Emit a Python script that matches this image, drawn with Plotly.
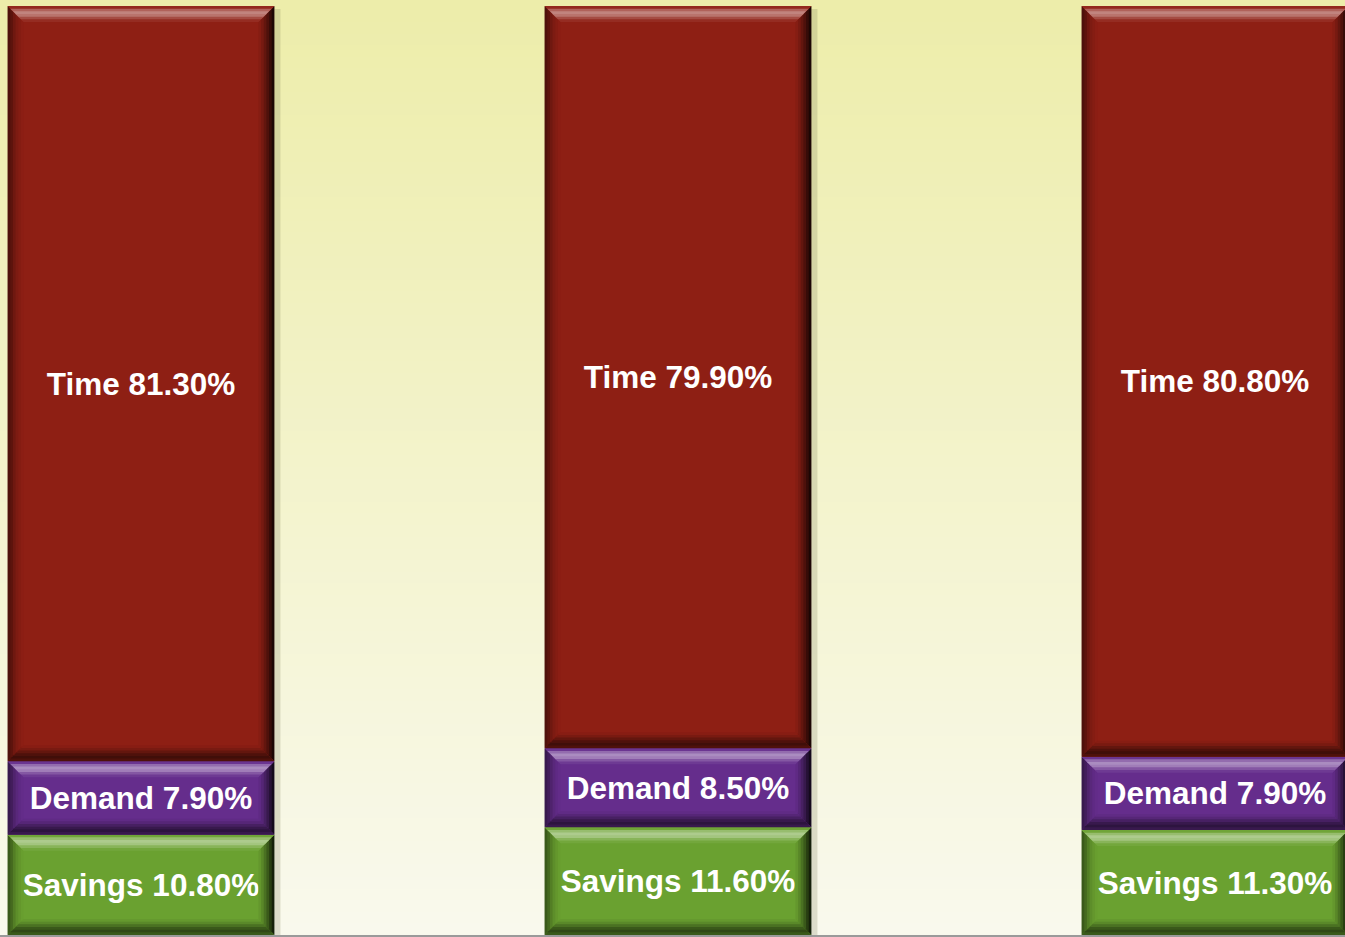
import plotly.graph_objects as go

categories = ["A", "B", "C"]
savings = [10.8, 11.6, 11.3]
demand = [7.9, 8.5, 7.9]
time_vals = [81.3, 79.9, 80.8]

series = [
    ("Savings", savings, (106, 161, 48)),
    ("Demand", demand, (101, 45, 140)),
    ("Time", time_vals, (142, 31, 20)),
]

W, H = 1345, 937
x_px_per = 537.0
x0_px = 141.0
xr = [-x0_px / x_px_per, (W - x0_px) / x_px_per]
y_px_per = 929.0 / 100.0
yr = [-(H - 935) / y_px_per, 100 + 6 / y_px_per]


def rgb(c):
    return "rgb(%d,%d,%d)" % tuple(int(round(v)) for v in c)


def mix(c, t, f):
    return tuple(c[k] + (t[k] - c[k]) * f for k in range(3))


fig = go.Figure()
for name, vals, col in series:
    fig.add_trace(go.Bar(
        x=list(range(len(categories))), y=vals, name=name,
        marker=dict(color=rgb(col), line=dict(width=0)),
        texttemplate=name + " %{y:.2f}%", textposition="inside",
        insidetextanchor="middle", textangle=0, constraintext="none",
        textfont=dict(family="Liberation Sans, Arial", size=31.5, color="white", weight="bold"),
        width=0.497,
    ))

shapes = []
# background gradient
top = (237, 237, 170)
bot = (249, 249, 237)
N = 80
for i in range(N):
    t = i / (N - 1)
    c = tuple(top[k] + (bot[k] - top[k]) * t for k in range(3))
    shapes.append(dict(type="rect", xref="paper", yref="paper",
                       x0=0, x1=1, y0=1 - (i + 1) / N, y1=1 - i / N + 0.002,
                       fillcolor=rgb(c), line=dict(width=0), layer="below"))

# bevel decorations derived from data
bw = 0.497
depth = 16.0
nb = 6
sx = 1 / x_px_per
sy = 1 / y_px_per
WHITE = (255, 255, 255)
BLACK = (0, 0, 0)
top_prof = [(WHITE, f) for f in [0.04, 0.3, 0.45, 0.38, 0.2, 0.06]]
bot_prof = [(BLACK, f) for f in [0.45, 0.55, 0.45, 0.3, 0.15, 0.05]]
rt_prof = [(BLACK, f) for f in [0.8, 0.62, 0.45, 0.3, 0.16, 0.06]]
lf_prof = [(BLACK, f) for f in [0.45, 0.35, 0.22, 0.12, 0.06, 0.02]]


def poly(pts, fill):
    p = "M " + " L ".join("%f,%f" % pt for pt in pts) + " Z"
    shapes.append(dict(type="path", xref="x", yref="y", path=p,
                       fillcolor=fill, line=dict(width=0), layer="above"))


for xi in range(len(categories)):
    base = 0.0
    shapes.append(dict(type="rect", xref="x", yref="y",
                       x0=xi + bw / 2, x1=xi + bw / 2 + 6 * sx, y0=0, y1=100 - 3 * sy,
                       fillcolor="rgba(120,120,80,0.22)", line=dict(width=0), layer="below"))
    for name, vals, col in series:
        v = vals[xi]
        xa, xb = xi - bw / 2, xi + bw / 2
        ya, yb = base, base + v
        for i in range(nb):
            d0 = depth * i / nb
            d1 = depth * (i + 1) / nb + (1.0 if i < nb - 1 else 0.0)
            poly([(xa + d0 * sx, ya + d0 * sy), (xa + d0 * sx, yb - d0 * sy),
                  (xa + d1 * sx, yb - d1 * sy), (xa + d1 * sx, ya + d1 * sy)],
                 rgb(mix(col, *lf_prof[i])))
            poly([(xb - d0 * sx, ya + d0 * sy), (xb - d0 * sx, yb - d0 * sy),
                  (xb - d1 * sx, yb - d1 * sy), (xb - d1 * sx, ya + d1 * sy)],
                 rgb(mix(col, *rt_prof[i])))
            poly([(xa + d0 * sx, yb - d0 * sy), (xb - d0 * sx, yb - d0 * sy),
                  (xb - d1 * sx, yb - d1 * sy), (xa + d1 * sx, yb - d1 * sy)],
                 rgb(mix(col, *top_prof[i])))
            poly([(xa + d0 * sx, ya + d0 * sy), (xb - d0 * sx, ya + d0 * sy),
                  (xb - d1 * sx, ya + d1 * sy), (xa + d1 * sx, ya + d1 * sy)],
                 rgb(mix(col, *bot_prof[i])))
        base = yb

shapes.append(dict(type="line", xref="paper", yref="paper", x0=0, x1=1, y0=0.001, y1=0.001,
                   line=dict(color="#9A9A9A", width=2), layer="above"))

fig.update_layout(
    barmode="stack",
    width=W, height=H,
    margin=dict(l=0, r=0, t=0, b=0),
    showlegend=False,
    paper_bgcolor="rgba(0,0,0,0)", plot_bgcolor="rgba(0,0,0,0)",
    xaxis=dict(range=xr, visible=False, fixedrange=True),
    yaxis=dict(range=yr, visible=False, fixedrange=True),
    shapes=shapes,
)
fig.write_html("out.html", config={"displayModeBar": False},
               post_script="document.body.style.margin='0';document.body.style.overflow='hidden';")
